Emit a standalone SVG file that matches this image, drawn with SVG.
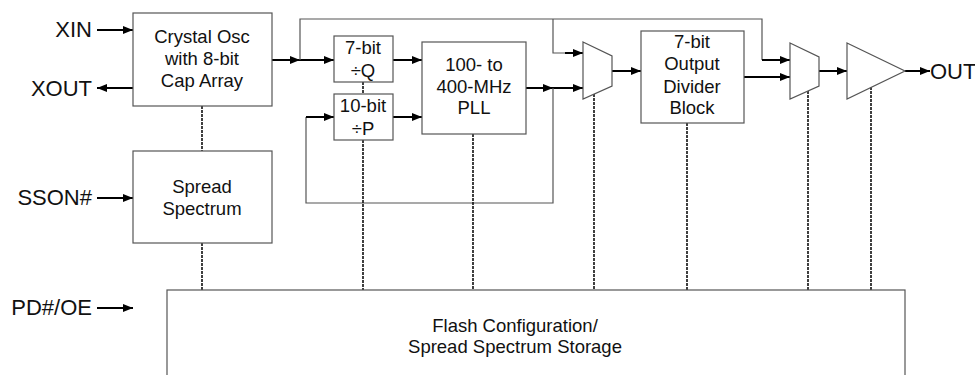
<svg xmlns="http://www.w3.org/2000/svg" width="975" height="375" viewBox="0 0 975 375">
<defs>
<marker id="ah" viewBox="0 0 10 8" refX="10" refY="4" markerWidth="10" markerHeight="8" markerUnits="userSpaceOnUse" orient="auto">
<path d="M0,0 L10,4 L0,8 Z" fill="#000"/>
</marker>
</defs>
<style>
.box{fill:#fff;stroke:#555;stroke-width:1.2}
.t{font-family:"Liberation Sans",Arial,sans-serif;font-size:18.5px;fill:#111;text-anchor:middle}
.lbl{font-family:"Liberation Sans",Arial,sans-serif;font-size:22px;fill:#111}
.w{fill:none;stroke:#000;stroke-width:2}
.thin{fill:none;stroke:#555;stroke-width:1.2}
.dot{fill:none;stroke:#111;stroke-width:1.6;stroke-dasharray:3,1}
</style>
<rect width="975" height="375" fill="#fff"/>
<g id="connectors">
<line class="w" x1="97" y1="30" x2="133" y2="30" marker-end="url(#ah)"/>
<line class="w" x1="133" y1="88" x2="97" y2="88" marker-end="url(#ah)"/>
<line class="w" x1="97" y1="198" x2="133" y2="198" marker-end="url(#ah)"/>
<line class="w" x1="97" y1="308" x2="133" y2="308" marker-end="url(#ah)"/>
<line class="w" x1="272" y1="60" x2="300" y2="60" marker-end="url(#ah)"/>
<line class="w" x1="300" y1="60" x2="334" y2="60" marker-end="url(#ah)"/>
<polyline class="thin" points="300,60 300,19 762,19 762,60"/>
<polyline class="thin" points="553,19 553,53 565,53"/>
<line class="w" x1="565" y1="53" x2="583" y2="53" marker-end="url(#ah)"/>
<line class="w" x1="762" y1="60" x2="790" y2="60" marker-end="url(#ah)"/>
<line class="w" x1="393" y1="60" x2="422" y2="60" marker-end="url(#ah)"/>
<line class="w" x1="393" y1="117" x2="422" y2="117" marker-end="url(#ah)"/>
<line class="w" x1="526" y1="88" x2="553" y2="88" marker-end="url(#ah)"/>
<line class="w" x1="553" y1="88" x2="583" y2="88" marker-end="url(#ah)"/>
<polyline class="thin" points="553,88 553,203 306,203 306,117"/>
<line class="w" x1="306" y1="117" x2="334" y2="117" marker-end="url(#ah)"/>
<line class="w" x1="612" y1="71" x2="641" y2="71" marker-end="url(#ah)"/>
<line class="w" x1="744" y1="77" x2="790" y2="77" marker-end="url(#ah)"/>
<line class="w" x1="819" y1="71" x2="847" y2="71" marker-end="url(#ah)"/>
<line class="w" x1="905" y1="71" x2="930" y2="71" marker-end="url(#ah)"/>
<line class="dot" x1="202" y1="106" x2="202" y2="151"/>
<line class="dot" x1="202" y1="243" x2="202" y2="290"/>
<line class="dot" x1="363" y1="82" x2="363" y2="94"/>
<line class="dot" x1="363" y1="140" x2="363" y2="290"/>
<line class="dot" x1="473" y1="134" x2="473" y2="290"/>
<line class="dot" x1="594" y1="94" x2="594" y2="290"/>
<line class="dot" x1="687" y1="123" x2="687" y2="290"/>
<line class="dot" x1="808" y1="91" x2="808" y2="290"/>
<line class="dot" x1="871" y1="87" x2="871" y2="290"/>
</g>
<g id="labels">
<text class="lbl" x="92" y="37" text-anchor="end">XIN</text>
<text class="lbl" x="92" y="96" text-anchor="end">XOUT</text>
<text class="lbl" x="92" y="205" text-anchor="end">SSON#</text>
<text class="lbl" x="92" y="315" text-anchor="end">PD#/OE</text>
<text class="lbl" x="930" y="79">OUT</text>
</g>
<g id="osc">
<rect class="box" x="133" y="13" width="139" height="93"/>
<text class="t" x="202" y="43">Crystal Osc</text>
<text class="t" x="202" y="65">with 8-bit</text>
<text class="t" x="202" y="87">Cap Array</text>
</g>
<g id="spread">
<rect class="box" x="133" y="151" width="139" height="92"/>
<text class="t" x="202" y="193">Spread</text>
<text class="t" x="202" y="215">Spectrum</text>
</g>
<g id="divq">
<rect class="box" x="334" y="36" width="59" height="46"/>
<text class="t" x="363" y="54">7-bit</text>
<text class="t" x="363" y="77">÷Q</text>
</g>
<g id="divp">
<rect class="box" x="334" y="94" width="59" height="46"/>
<text class="t" x="363" y="112">10-bit</text>
<text class="t" x="363" y="135">÷P</text>
</g>
<g id="pll">
<rect class="box" x="422" y="42" width="104" height="92"/>
<text class="t" x="474" y="71">100- to</text>
<text class="t" x="474" y="93">400-MHz</text>
<text class="t" x="474" y="114">PLL</text>
</g>
<g id="mux1">
<polygon class="box" points="583,42 612,56 612,86 583,99"/>
</g>
<g id="outdiv">
<rect class="box" x="641" y="31" width="103" height="92"/>
<text class="t" x="692" y="48">7-bit</text>
<text class="t" x="692" y="70">Output</text>
<text class="t" x="692" y="93">Divider</text>
<text class="t" x="692" y="114">Block</text>
</g>
<g id="mux2">
<polygon class="box" points="790,43 819,57 819,86 790,99"/>
</g>
<g id="buffer">
<polygon class="box" points="847,43 905,71 847,99"/>
</g>
<g id="flash">
<rect class="box" x="167" y="290" width="738" height="100"/>
<text class="t" x="515" y="332">Flash Configuration/</text>
<text class="t" x="515" y="353">Spread Spectrum Storage</text>
</g>
</svg>
